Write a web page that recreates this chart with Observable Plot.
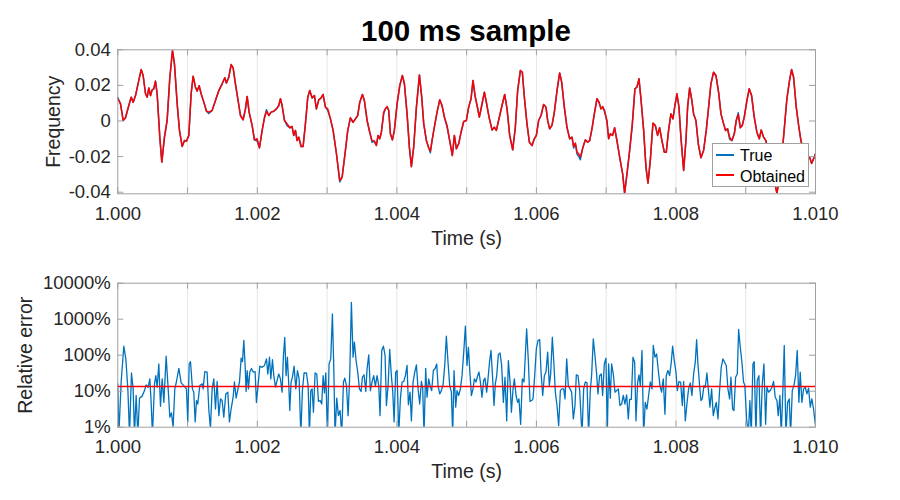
<!DOCTYPE html>
<html>
<head>
<meta charset="utf-8">
<script src="https://cdn.jsdelivr.net/npm/d3@7"></script>
<script src="https://cdn.jsdelivr.net/npm/@observablehq/plot@0.6"></script>
<style>
  body { margin: 0; background: #fff; font-family: "Liberation Sans", Arial, sans-serif; }
  #wrap { position: relative; width: 900px; height: 500px; overflow: hidden; background: #fff; }
  #title { height: 40px; position: relative; z-index: 2; }
  #title span { position: absolute; left: 117px; width: 698px; top: 15.8px; text-align: center;
    font-size: 29.5px; line-height: 30px; font-weight: bold; color: #000; white-space: nowrap; }
  #legend { position: absolute; left: 712px; top: 143px; width: 95px; height: 42px; border: 1px solid #a0a0a0;
    background: #fff; z-index: 3; font-size: 16px; line-height: 16px; color: #000; }
  #legend .sw { position: absolute; left: 3px; width: 18px; height: 2px; }
  #legend .lb { position: absolute; left: 27px; white-space: nowrap; }
  svg { display: block; }
</style>
</head>
<body>
<div id="wrap">
  <div id="title"><span>100 ms sample</span></div>
  <div id="top"></div>
  <div id="bottom"></div>
  <div id="legend"></div>
</div>
<script>
// ---------- data ----------
const titleText = "100 ms sample";
const seriesNames = ["True", "Obtained"];
const seriesColors = ["#0072BD", "#FF0000"];
const xLabel = "Time (s)";
const yLabelTop = "Frequency";
const yLabelBottom = "Relative error";

const xTickLabels = [1.000, 1.002, 1.004, 1.006, 1.008, 1.010];
const xGridTicks = [1.000, 1.001, 1.002, 1.003, 1.004, 1.005, 1.006, 1.007, 1.008, 1.009, 1.010];
const yTicksTop = [-0.04, -0.02, 0, 0.02, 0.04];
const yTicksBottom = [1, 10, 100, 1000, 10000];

// time offset after 1.000 s, in milliseconds
const sigTimeMs = [
  0, .039, .077, .110, .158, .192, .220, .254, .301, .335,
  .363, .397, .421, .445, .469, .492, .516, .540, .564, .602,
  .631, .669, .707, .746, .784, .812, .851, .884, .922, .956,
  .984, 1.018, 1.051, 1.080, 1.113, 1.137, 1.166, 1.194, 1.233, 1.271,
  1.304, 1.352, 1.400, 1.448, 1.495, 1.534, 1.557, 1.591, 1.624, 1.653,
  1.686, 1.720, 1.758, 1.796, 1.830, 1.854, 1.882, 1.925, 1.959, 1.997,
  2.030, 2.069, 2.102, 2.131, 2.164, 2.197, 2.236, 2.274, 2.307, 2.331,
  2.355, 2.389, 2.427, 2.465, 2.498, 2.522, 2.546, 2.570, 2.594, 2.627,
  2.656, 2.689, 2.723, 2.751, 2.785, 2.818, 2.847, 2.880, 2.914, 2.942,
  2.976, 3.009, 3.048, 3.086, 3.134, 3.181, 3.215, 3.262, 3.296, 3.334,
  3.372, 3.406, 3.439, 3.468, 3.506, 3.534, 3.573, 3.611, 3.644, 3.678,
  3.706, 3.730, 3.754, 3.778, 3.811, 3.835, 3.859, 3.883, 3.907, 3.936,
  3.964, 4.003, 4.041, 4.079, 4.108, 4.146, 4.179, 4.208, 4.241, 4.280,
  4.323, 4.356, 4.385, 4.423, 4.456, 4.480, 4.504, 4.537, 4.576, 4.614,
  4.647, 4.681, 4.719, 4.757, 4.795, 4.824, 4.853, 4.886, 4.920, 4.958,
  4.996, 5.029, 5.063, 5.091, 5.120, 5.149, 5.182, 5.216, 5.254, 5.282,
  5.321, 5.364, 5.397, 5.426, 5.474, 5.507, 5.545, 5.579, 5.617, 5.660,
  5.698, 5.731, 5.770, 5.798, 5.827, 5.865, 5.899, 5.937, 5.970, 5.999,
  6.032, 6.066, 6.104, 6.137, 6.161, 6.190, 6.223, 6.257, 6.295, 6.333,
  6.362, 6.400, 6.438, 6.477, 6.510, 6.534, 6.558, 6.582, 6.605, 6.629,
  6.667, 6.701, 6.734, 6.763, 6.796, 6.830, 6.868, 6.897, 6.925, 6.949,
  6.978, 7.011, 7.035, 7.059, 7.092, 7.121, 7.154, 7.193, 7.236, 7.264,
  7.298, 7.336, 7.374, 7.412, 7.441, 7.470, 7.498, 7.537, 7.570, 7.599,
  7.632, 7.670, 7.704, 7.737, 7.766, 7.799, 7.833, 7.861, 7.895, 7.928,
  7.957, 7.985, 8.014, 8.043, 8.071, 8.110, 8.143, 8.167, 8.196, 8.224,
  8.253, 8.286, 8.320, 8.358, 8.396, 8.434, 8.468, 8.501, 8.539, 8.573,
  8.611, 8.645, 8.683, 8.711, 8.740, 8.769, 8.802, 8.836, 8.864, 8.893,
  8.922, 8.950, 8.979, 9.017, 9.050, 9.084, 9.122, 9.160, 9.194, 9.222,
  9.256, 9.289, 9.318, 9.351, 9.399, 9.447, 9.495, 9.542, 9.590, 9.628,
  9.657, 9.686, 9.724, 9.762, 9.791, 9.829, 9.886, 9.915, 9.944, 9.972,
  10.000
];

// frequency values in units of 1e-3
const obtainedMilli = [
  12.5, 9.6, 0.3, 1.8, 8.7, 13.4, 10.6, 14.3, 22.8, 28.9,
  25.6, 15.3, 13.4, 18.6, 14.3, 17.5, 18.1, 22.4, 15.3, -9.1,
  -23.1, -9.1, 0.3, 24.6, 39.6, 32.1, 9.6, -5.3, -14.3, -11,
  -11.3, -8.1, 15.3, 25.2, 19, 16.8, 19.8, 15.3, 10.6, 5.5,
  5, 5.9, 11.5, 17.1, 20.9, 24.3, 21.3, 24.6, 31.7, 29.9,
  20.9, 12.5, 3.1, 0.7, 6.8, 13.8, 5, -2.5, -10.6, -10,
  -15.1, -5.3, 1.8, 5.5, 3.1, 5, 5.5, 6.8, 8.7, 12.5,
  8.7, 0.3, -1.6, -3.8, -3.1, -8.1, -5.3, -11, -9.1, -14.3,
  -14.3, -1.6, 13.4, 17.1, 13, 14.3, 6.8, 11.9, 13, 14.9,
  7.8, 6.8, 1.2, -5.3, -18.4, -33.4, -31.6, -16.6, -5.3, 1.8,
  -0.7, 1.2, 3.1, 10.6, 14.9, 11.5, 0.3, -6.3, -11, -11.3,
  -13.8, -8.1, -10, -6.3, 5, 6.8, 8.1, 5.9, -7.2, -10.6,
  -5.3, 9.6, 19.9, 25.6, 20.9, 4, -14.7, -25.6, -14.7, 7.8,
  25.9, 13.4, -1.6, -11, -15.1, -16.9, -11, -3.5, 5, 11.9,
  8.7, 2.2, -2.5, -11, -19.4, -8.1, -15.6, -12.8, -6.3, -0.3,
  0.3, 7.8, 12.5, 22.8, 14.3, 8.7, 2.2, 8.7, 16.2, 10.6,
  2.2, -5, -3.5, -5.3, 3.1, 8.7, 14.9, 6.8, -8.1, -16.2,
  -3.5, 17.1, 28.4, 27.4, 13.4, -1.6, -11.9, -13.8, -10, -8.1,
  0.3, 3.1, 9.3, 7.8, 0.3, -4.4, -2.5, 5, 17.1, 27,
  21.8, 7.8, -3.5, -10, -9.1, -14.3, -12.5, -17.5, -18.4, -20.3,
  -14.7, -10.6, -11.9, -11, -4.4, 4, 12.5, 10.6, 6.8, 8.1,
  5, 0.3, -10, -7.2, -8.1, -3.8, -11, -20.3, -29.7, -40.6,
  -29.7, -16.6, -1.6, 18.1, 19, 23.7, 12.5, -5.3, -25.9, -34.9,
  -22.3, -1.2, -2.5, -8.1, -3.8, -11, -17.5, -17.5, -5, 4,
  1.2, 8.7, 15.3, 7.8, -9.1, -27.8, -11, 7.8, 18.6, 12.5,
  4, 0.3, -12.8, -20.7, -16.6, -5.3, 7.8, 20.9, 27.4, 25.6,
  16.2, 4, -1.6, -5.3, -4.4, -9.1, -11, -7.2, 0.3, 3.7,
  -3.8, -2.5, 2.2, 11.5, 18.1, 14.3, 2.2, -6.3, -10, -5,
  -9.1, -11, -16.6, -22.3, -31.7, -40.6, -29.7, -9.1, 12.5, 22.8,
  28.9, 24.6, 7.8, -3.5, -11, -16.6, -19.4, -20.3, -23.8, -21.3,
  -18.4
];

const trueMilli = [
  13.2, 9.6, 0.3, 1.8, 8.7, 13.4, 10.6, 14.3, 22.8, 28.9,
  25.6, 15.3, 13.4, 18.6, 14.3, 17.5, 18.1, 22.4, 15.3, -9.1,
  -23.1, -9.1, 0.3, 24.6, 39.6, 32.1, 9.6, -5.3, -14.3, -11,
  -11.3, -8.1, 15.3, 25.2, 19, 16.8, 19.8, 15.3, 10.6, 5.5,
  4.2, 5.9, 11.5, 17.1, 20.9, 24.3, 21.3, 24.6, 31.7, 29.9,
  20.9, 12.5, 3.1, 0.7, 6.8, 13.8, 5, -2.5, -10.6, -11.2,
  -15.1, -5.3, 1.8, 6.3, 3.1, 5, 5.5, 6.8, 8.7, 12.5,
  8.7, 0.3, -2.6, -3.8, -3.1, -8.1, -5.3, -11, -9.1, -14.3,
  -14.3, -1.6, 13.4, 17.1, 13, 14.3, 6.8, 11.9, 13, 14.9,
  7.8, 6.0, 1.2, -5.3, -18.4, -34.2, -31.6, -16.6, -5.3, 1.8,
  -0.7, 1.2, 3.1, 10.6, 14.9, 11.5, 0.3, -6.3, -12, -11.3,
  -13.8, -8.1, -10, -6.3, 4, 6.8, 8.1, 5.9, -7.2, -10.6,
  -5.3, 9.6, 19.9, 25.6, 20.9, 4, -14.7, -25.6, -14.7, 7.8,
  25.9, 13.4, -1.6, -11, -15.1, -17.8, -11, -3.5, 5, 11.9,
  8.7, 2.2, -3.4, -11, -19.4, -8.1, -15.6, -12.8, -6.3, -0.3,
  0.3, 7.8, 12.5, 22.8, 14.3, 8.7, 2.2, 8.7, 16.2, 10.6,
  2.2, -5, -3.5, -5.3, 3.1, 8.7, 14.9, 6.8, -8.1, -16.2,
  -3.5, 17.1, 28.4, 27.4, 13.4, -1.6, -11.9, -13.8, -10, -8.1,
  0.3, 3.1, 9.3, 7.8, 0.3, -4.4, -2.5, 5, 17.1, 27,
  21.8, 7.8, -3.5, -10, -9.1, -15.2, -12.5, -18.6, -19.8, -21.8,
  -14.7, -10.6, -11.9, -11, -4.4, 4, 12.5, 10.6, 6.8, 8.1,
  5.8, -0.6, -10, -7.2, -8.1, -3.8, -11, -20.3, -29.7, -40.6,
  -29.7, -16.6, -2.6, 18.1, 19, 23.7, 12.5, -5.3, -25.9, -34.9,
  -22.3, -1.2, -2.5, -8.1, -3.8, -11, -17.5, -17.5, -5, 4,
  1.2, 8.7, 15.3, 7.8, -9.1, -27.8, -11, 7.8, 18.6, 12.5,
  4, 0.3, -12.8, -20.7, -16.6, -5.3, 7.8, 20.9, 27.4, 25.6,
  16.2, 4, -1.6, -5.3, -4.4, -10.2, -11, -7.2, 0.3, 4.6,
  -3.8, -2.5, 2.2, 11.5, 18.1, 14.3, 2.2, -6.3, -10, -5,
  -9.1, -11, -16.6, -22.3, -31.7, -40.6, -29.7, -9.1, 12.5, 22.8,
  28.9, 24.6, 7.8, -3.5, -11, -16.6, -20.2, -20.3, -23.8, -21.3,
  -18.4
];

const errTimeMs = [
  0, .015, .048, .086, .115, .144, .168, .196, .220, .239,
  .263, .287, .311, .349, .383, .406, .435, .459, .478, .497,
  .526, .545, .564, .588, .612, .636, .660, .693, .722, .746,
  .769, .793, .817, .841, .875, .908, .946, .984, 1.003, 1.023,
  1.042, 1.070, 1.089, 1.109, 1.128, 1.147, 1.175, 1.209, 1.223, 1.247,
  1.280, 1.304, 1.328, 1.352, 1.376, 1.400, 1.424, 1.448, 1.472, 1.495,
  1.519, 1.548, 1.577, 1.600, 1.624, 1.653, 1.672, 1.696, 1.720, 1.744,
  1.768, 1.787, 1.806, 1.825, 1.839, 1.854, 1.873, 1.892, 1.916, 1.940,
  1.968, 1.987, 2.006, 2.035, 2.068, 2.102, 2.131, 2.150, 2.174, 2.193,
  2.217, 2.236, 2.260, 2.283, 2.307, 2.331, 2.355, 2.374, 2.393, 2.412,
  2.431, 2.451, 2.465, 2.484, 2.503, 2.527, 2.551, 2.575, 2.599, 2.623,
  2.646, 2.670, 2.704, 2.728, 2.747, 2.766, 2.785, 2.804, 2.828, 2.852,
  2.876, 2.900, 2.923, 2.943, 2.962, 2.981, 3.005, 3.028, 3.052, 3.076,
  3.095, 3.114, 3.138, 3.162, 3.186, 3.210, 3.234, 3.253, 3.277, 3.301,
  3.324, 3.348, 3.372, 3.391, 3.415, 3.439, 3.463, 3.487, 3.506, 3.530,
  3.554, 3.573, 3.597, 3.620, 3.644, 3.668, 3.692, 3.716, 3.740, 3.759,
  3.783, 3.807, 3.831, 3.850, 3.874, 3.897, 3.921, 3.940, 3.960, 3.983,
  4.003, 4.026, 4.050, 4.074, 4.098, 4.122, 4.146, 4.165, 4.189, 4.208,
  4.232, 4.256, 4.280, 4.303, 4.327, 4.351, 4.370, 4.389, 4.413, 4.432,
  4.456, 4.480, 4.499, 4.523, 4.547, 4.571, 4.590, 4.614, 4.638, 4.662,
  4.686, 4.709, 4.733, 4.757, 4.781, 4.800, 4.819, 4.843, 4.862, 4.886,
  4.910, 4.934, 4.958, 4.982, 5.005, 5.025, 5.048, 5.068, 5.091, 5.111,
  5.134, 5.158, 5.177, 5.196, 5.220, 5.244, 5.263, 5.287, 5.306, 5.330,
  5.349, 5.373, 5.392, 5.411, 5.431, 5.454, 5.478, 5.502, 5.526, 5.550,
  5.574, 5.598, 5.622, 5.641, 5.665, 5.684, 5.708, 5.731, 5.750, 5.774,
  5.798, 5.822, 5.841, 5.860, 5.884, 5.908, 5.932, 5.951, 5.975, 5.999,
  6.023, 6.047, 6.066, 6.090, 6.114, 6.137, 6.161, 6.185, 6.204, 6.228,
  6.252, 6.271, 6.295, 6.319, 6.343, 6.367, 6.391, 6.410, 6.434, 6.457,
  6.481, 6.505, 6.529, 6.553, 6.572, 6.596, 6.620, 6.653, 6.677, 6.701,
  6.725, 6.748, 6.772, 6.791, 6.815, 6.839, 6.863, 6.882, 6.906, 6.930,
  6.949, 6.973, 6.997, 7.016, 7.035, 7.059, 7.078, 7.102, 7.126, 7.150,
  7.174, 7.197, 7.221, 7.245, 7.269, 7.293, 7.317, 7.336, 7.360, 7.384,
  7.408, 7.427, 7.451, 7.470, 7.489, 7.513, 7.537, 7.560, 7.584, 7.608,
  7.632, 7.656, 7.675, 7.699, 7.723, 7.747, 7.771, 7.794, 7.818, 7.842,
  7.861, 7.885, 7.909, 7.933, 7.952, 7.976, 8.000, 8.019, 8.043, 8.067,
  8.091, 8.110, 8.134, 8.157, 8.181, 8.205, 8.229, 8.253, 8.277, 8.296,
  8.315, 8.339, 8.358, 8.377, 8.401, 8.420, 8.444, 8.463, 8.487, 8.511,
  8.535, 8.554, 8.578, 8.602, 8.625, 8.649, 8.673, 8.697, 8.721, 8.745,
  8.769, 8.788, 8.812, 8.831, 8.855, 8.879, 8.898, 8.922, 8.945, 8.969,
  8.988, 9.012, 9.036, 9.060, 9.079, 9.103, 9.122, 9.146, 9.165, 9.189,
  9.213, 9.237, 9.261, 9.285, 9.304, 9.328, 9.351, 9.375, 9.399, 9.423,
  9.447, 9.466, 9.490, 9.509, 9.533, 9.552, 9.576, 9.600, 9.624, 9.643,
  9.667, 9.691, 9.714, 9.738, 9.762, 9.781, 9.805, 9.829, 9.853, 9.877,
  9.901, 9.925, 9.948, 9.972, 10.000
];

// relative error in percent
const errPct = [
  16, 0.6, 18, 178, 79, 11.6, 0.6, 32, 11.6, 0.6,
  7.6, 0.6, 6.4, 7.3, 10.4, 15, 12.9, 22, 4.9, 0.6,
  16, 27, 12.9, 57, 3.8, 22, 4.9, 94, 11.6, 1.9,
  2.5, 1, 11.6, 18.6, 43, 17, 14.3, 11.6, 1.4, 57,
  66, 11.6, 9.4, 1.4, 5.5, 4.4, 14.3, 16, 11.6, 35,
  34, 3.2, 0.9, 11.6, 22, 3.2, 18.6, 2.1, 6.1, 5.5,
  1.9, 8.4, 9.4, 1.4, 3.2, 6.8, 18, 6.4, 11, 18,
  83, 66, 257, 52, 9.8, 37.5, 11.6, 34, 43, 34,
  35, 4.9, 11.6, 49.6, 46, 52, 79, 30, 88, 22,
  75, 27, 12.9, 20, 30, 22, 9.4, 98, 310, 27,
  88, 14.3, 2.9, 18, 24.5, 49.6, 11.6, 37.5, 22, 0.6,
  10.4, 32, 32, 14.3, 0.6, 10.4, 11.6, 2.6, 32, 30,
  5.2, 5.5, 4.4, 27, 9, 32, 0.6, 57, 79, 1400,
  52, 0.6, 6.4, 2.1, 2.9, 0.6, 18, 23, 14.3, 2.1,
  27, 2950, 88, 230, 71, 34, 11.6, 9.8, 24.5, 28.5,
  9.8, 42, 102, 10.4, 18, 27, 13.8, 27, 14.3, 2.1,
  135, 178, 98, 4, 14.3, 144, 27, 10.4, 1.4, 34,
  37.5, 0.6, 6.1, 18, 18.6, 27, 52, 4.2, 9.4, 1.5,
  18, 34, 54, 12.1, 4.4, 18.6, 12.1, 0.6, 43, 6.8,
  22, 12.9, 10.4, 37.5, 42, 57, 14.3, 8.4, 10.4, 15,
  52, 338, 64, 14.3, 9.4, 0.6, 37.5, 3.6, 10.4, 7.6,
  11.6, 27, 121, 645, 52, 166, 30, 7.6, 11.6, 22,
  18, 27, 34, 18.6, 6.8, 20, 23, 9.4, 22, 71,
  135, 22, 4, 16, 27, 104, 116, 52, 4.9, 24.5,
  1.5, 71, 18, 2.6, 11.6, 22, 7.6, 4.9, 6.1, 1.2,
  22, 18, 98, 537, 71, 5.2, 5.5, 6.1, 27, 150,
  257, 270, 34, 7.6, 27, 34, 121, 14.3, 30, 316,
  52, 9.4, 4, 1.1, 10.4, 11.6, 11.6, 6.1, 79, 14.3,
  11.6, 9.4, 1.7, 4, 28.5, 27, 10.4, 0.6, 11.6, 18,
  17, 0.6, 10.4, 27, 283, 98, 30, 8.4, 27, 30,
  7.6, 57, 83, 0.6, 57, 6.4, 57, 30, 9.4, 10.4,
  11.6, 4, 4.4, 7.6, 4.4, 7.9, 1.7, 5.9, 5.9, 88,
  64, 1.5, 18, 28.5, 14.3, 135, 0.6, 4.9, 3.2, 7.6,
  18, 11.6, 186, 88, 108, 37.5, 14.3, 9.4, 22, 2.3,
  27, 37.5, 27, 64, 178, 71, 34, 10.4, 18.6, 18,
  4, 18.6, 1.5, 4.4, 11.6, 17, 7.6, 30, 64, 270,
  57, 14.3, 5.5, 6.1, 14.3, 12.9, 32, 11.6, 3.6, 11.6,
  2.1, 3.2, 4.9, 1.7, 10.4, 46, 79, 64, 52, 11.6,
  6.1, 24.5, 3.2, 2.9, 24.5, 30, 517, 166, 64, 18,
  14.3, 1.7, 0.6, 5.5, 0.6, 57, 66, 0.6, 20, 27,
  0.6, 16, 57, 1.2, 12.9, 9.4, 10.4, 12.9, 18.6, 6.8,
  5.5, 2.1, 7.6, 0.6, 11.6, 186, 0.6, 4.9, 6.1, 0.6,
  10.4, 14.3, 27, 135, 4.9, 34, 4.9, 11.6, 12.9, 8.4,
  12.1, 3.6, 6.1, 3.2, 1.1
];

const meanErrorPct = 13.5;

// ---------- build ----------
const START = 1.0;
const sig = sigTimeMs.map((ms, i) => ({
  t: START + ms / 1000,
  obtained: obtainedMilli[i] / 1000,
  truth: trueMilli[i] / 1000
}));
const err = errTimeMs.map((ms, i) => ({ t: START + ms / 1000, pct: errPct[i] }));

const FONT = "'Liberation Sans', Arial, Helvetica, sans-serif";
const TEXT = "#262626";
const AXIS = "#a0a0a0";
const GRID = "#e6e6e6";
const W = 900, ML = 117.3, MR = 85;
const FRAME_H = 144;
const TICK = 6;

function axisMarks(yTicks, yLabel, yLabelDx) {
  return [
    Plot.frame({ stroke: AXIS, strokeWidth: 1 }),
    Plot.tickX(xGridTicks, { x: d => d, insetTop: FRAME_H - TICK, stroke: AXIS }),
    Plot.tickX(xGridTicks, { x: d => d, insetBottom: FRAME_H - TICK, stroke: AXIS }),
    Plot.tickY(yTicks, { y: d => d, insetRight: (W - ML - MR) - TICK, stroke: AXIS }),
    Plot.tickY(yTicks, { y: d => d, insetLeft: (W - ML - MR) - TICK, stroke: AXIS }),
    Plot.text([yLabel], { text: d => d, frameAnchor: "left", dx: yLabelDx, rotate: -90,
      textAnchor: "middle", lineAnchor: "middle", fontSize: 19.5, fill: TEXT }),
    Plot.text([xLabel], { text: d => d, frameAnchor: "bottom", dy: 50.7,
      textAnchor: "middle", lineAnchor: "bottom", fontSize: 19.5, fill: TEXT })
  ];
}

const xOpts = { domain: [1.0, 1.01], ticks: xTickLabels, tickFormat: d => d.toFixed(3),
  tickSize: 0, tickPadding: 13, label: null };

const topPlot = Plot.plot({
  width: W, height: 210,
  marginTop: 9.3, marginBottom: 56.7, marginLeft: ML, marginRight: MR,
  style: { fontFamily: FONT, fontSize: "18.5px", color: TEXT, background: "transparent", overflow: "visible" },
  x: xOpts,
  y: { domain: [-0.0409, 0.04], ticks: yTicksTop, tickFormat: d => d === 0 ? "0" : d.toFixed(2),
    tickSize: 0, tickPadding: 7, label: null },
  marks: [
    Plot.ruleX(xGridTicks.slice(1, -1), { x: d => d, stroke: GRID, strokeWidth: 1 }),
    Plot.line(sig, { x: "t", y: "truth", stroke: seriesColors[0], strokeWidth: 1.5, clip: true }),
    Plot.line(sig, { x: "t", y: "obtained", stroke: seriesColors[1], strokeWidth: 1.5, clip: true }),
    ...axisMarks(yTicksTop, yLabelTop, 53.5 - ML)
  ]
});

const bottomPlot = Plot.plot({
  width: W, height: 250,
  marginTop: 32.7, marginBottom: 73.3, marginLeft: ML, marginRight: MR,
  style: { fontFamily: FONT, fontSize: "18.5px", color: TEXT, background: "transparent", overflow: "visible" },
  x: xOpts,
  y: { type: "log", domain: [1, 10000], ticks: yTicksBottom, tickFormat: d => d + "%",
    tickSize: 0, tickPadding: 7, label: null },
  marks: [
    Plot.ruleX(xGridTicks.slice(1, -1), { x: d => d, stroke: GRID, strokeWidth: 1 }),
    Plot.line(err, { x: "t", y: "pct", stroke: seriesColors[0], strokeWidth: 1.3, clip: true }),
    Plot.ruleY([meanErrorPct], { y: d => d, stroke: seriesColors[1], strokeWidth: 1.5 }),
    ...axisMarks(yTicksBottom, yLabelBottom, 25 - ML)
  ]
});

document.getElementById("top").appendChild(topPlot);
document.getElementById("bottom").appendChild(bottomPlot);
document.querySelector("#title span").textContent = titleText;

// legend
const legend = document.getElementById("legend");
const rows = [{ sw: 10, lb: 4 }, { sw: 30, lb: 25 }];
seriesNames.forEach((name, i) => {
  const sw = document.createElement("div");
  sw.className = "sw";
  sw.style.top = rows[i].sw + "px";
  sw.style.background = seriesColors[i];
  legend.appendChild(sw);
  const lb = document.createElement("div");
  lb.className = "lb";
  lb.style.top = rows[i].lb + "px";
  lb.textContent = name;
  legend.appendChild(lb);
});
</script>
</body>
</html>
